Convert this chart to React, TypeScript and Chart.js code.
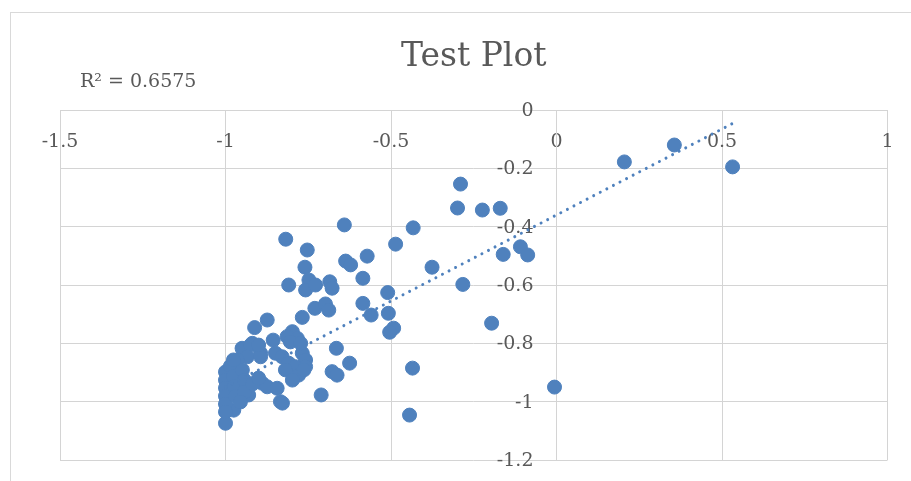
import { useEffect, useRef } from 'react';
import { Chart, registerables } from 'chart.js';

Chart.register(...registerables);

const chartTitle = 'Test Plot';
const rSquaredLabel = 'R\u00B2 = 0.6575';

const xValues = [
  0.356, 0.205, 0.532, -0.006, -0.29, -0.299, -0.224, -0.17, -0.433, -0.641,
  -0.818, -0.486, -0.753, -0.161, -0.109, -0.087, -0.376, -0.283, -0.637, -0.622,
  -0.572, -0.76, -0.585, -0.809, -0.748, -0.758, -0.728, -0.685, -0.678, -0.51,
  -0.585, -0.73, -0.698, -0.688, -0.56, -0.508, -0.768, -0.492, -0.504, -0.196,
  -0.874, -0.912, -0.798, -0.783, -0.814, -0.856, -0.919, -0.665, -0.625, -0.678,
  -0.663, -0.711, -0.435, -0.444, -0.95, -0.924, -0.894, -0.934, -0.849, -0.829,
  -0.809, -0.768, -0.758, -0.789, -0.819, -0.779, -0.798, -0.758, -0.763, -0.804,
  -0.773, -0.889, -0.874, -0.844, -0.834, -0.828, -0.93, -0.975, -1.0, -1.0,
  -1.0, -1.0, -1.0, -1.0, -1.0, -0.985, -0.976, -0.973, -0.97, -0.964,
  -0.949, -0.943, -0.943, -0.955, -0.918, -0.9, -0.976, -0.894, -0.9,
];

const yValues = [
  -0.12, -0.178, -0.195, -0.95, -0.254, -0.336, -0.343, -0.337, -0.404, -0.394,
  -0.443, -0.46, -0.48, -0.495, -0.469, -0.497, -0.539, -0.598, -0.518, -0.531,
  -0.501, -0.539, -0.577, -0.6, -0.583, -0.617, -0.6, -0.589, -0.611, -0.626,
  -0.663, -0.68, -0.665, -0.686, -0.703, -0.697, -0.711, -0.748, -0.762, -0.731,
  -0.72, -0.746, -0.76, -0.783, -0.777, -0.789, -0.8, -0.817, -0.868, -0.897,
  -0.909, -0.977, -0.885, -1.046, -0.817, -0.806, -0.834, -0.846, -0.834, -0.846,
  -0.868, -0.834, -0.857, -0.88, -0.891, -0.909, -0.926, -0.88, -0.891, -0.795,
  -0.8, -0.937, -0.949, -0.954, -1.0, -1.005, -0.977, -1.029, -1.074, -0.898,
  -0.926, -0.953, -0.981, -1.008, -1.035, -0.878, -0.912, -0.946, -0.981, -0.857,
  -0.891, -0.926, -0.967, -1.001, -0.939, -0.919, -0.857, -0.846, -0.806,
];

// Linear trendline
const trendSlope = 0.59;
const trendIntercept = -0.36;
const trendXStart = -1.0;
const trendXEnd = 0.53;

const xAxisMin = -1.5;
const xAxisMax = 1;
const xAxisStep = 0.5;
const yAxisMin = -1.2;
const yAxisMax = 0;
const yAxisStep = 0.2;

const markerColor = '#4F81BD';
const textColor = '#595959';
const gridColor = '#D4D4D4';

const fmt = (v: number) => String(Number(Number(v).toFixed(1)));

const yLabelShift = {
  id: 'yLabelShift',
  beforeDraw(chart: any) {
    const s: any = chart.scales.y;
    if (!s || !s.getLabelItems) return;
    const items = s.getLabelItems();
    for (const it of items) {
      if (!it.__shifted) {
        it.options.translation[0] -= 23;
        it.options.translation[1] += 1;
        it.__shifted = true;
      }
    }
  },
};

const rSquaredText = {
  id: 'rSquaredText',
  afterDraw(chart: any) {
    const ctx = chart.ctx;
    ctx.save();
    ctx.font = '19px "DejaVu Serif"';
    ctx.fillStyle = textColor;
    ctx.textAlign = 'left';
    ctx.textBaseline = 'alphabetic';
    ctx.fillText(rSquaredLabel, 80, 87);
    ctx.restore();
  },
};

const zeroPadding = (scale: any) => {
  scale.paddingLeft = 0;
  scale.paddingRight = 0;
  scale.paddingTop = 0;
  scale.paddingBottom = 0;
};

export default function App() {
  const ref = useRef<HTMLCanvasElement | null>(null);

  useEffect(() => {
    if (!ref.current) return;
    const points = xValues.map((x, i) => ({ x, y: yValues[i] }));
    const trend = [trendXStart, trendXEnd].map((x) => ({ x, y: trendIntercept + trendSlope * x }));

    const chart = new Chart(ref.current, {
      type: 'scatter',
      data: {
        datasets: [
          {
            label: 'Series1',
            data: points,
            backgroundColor: markerColor,
            borderColor: markerColor,
            borderWidth: 1,
            pointRadius: 7,
            pointHoverRadius: 7,
            order: 2,
          },
          {
            label: 'Trendline',
            data: trend,
            showLine: true,
            borderColor: markerColor,
            borderWidth: 3,
            borderDash: [0.01, 7.4],
            borderCapStyle: 'round',
            pointRadius: 0,
            fill: false,
            order: 1,
          } as any,
        ],
      },
      options: {
        animation: false,
        responsive: false,
        events: [],
        layout: { padding: { left: 60, right: 23.5, top: 18, bottom: 21 } },
        font: { family: '"DejaVu Serif"' } as any,
        plugins: {
          legend: { display: false },
          tooltip: { enabled: false },
          title: {
            display: true,
            text: chartTitle,
            color: textColor,
            font: { family: '"DejaVu Serif"', size: 33, weight: 'normal' },
            padding: { top: 20, bottom: 32.4 },
          },
        },
        scales: {
          x: {
            type: 'linear',
            position: { y: 0 } as any,
            min: xAxisMin,
            max: xAxisMax,
            afterFit: zeroPadding,
            ticks: {
              stepSize: xAxisStep,
              color: textColor,
              font: { family: '"DejaVu Serif"', size: 19 },
              padding: 21,
              maxRotation: 0,
              callback: (v: any) => fmt(v),
            },
            grid: { color: gridColor, lineWidth: 1, drawTicks: false },
            border: { color: gridColor, width: 1 },
          },
          y: {
            type: 'linear',
            position: { x: 0 } as any,
            min: yAxisMin,
            max: yAxisMax,
            afterFit: zeroPadding,
            ticks: {
              stepSize: yAxisStep,
              color: textColor,
              font: { family: '"DejaVu Serif"', size: 19 },
              padding: 0,
              callback: (v: any) => fmt(v),
            },
            grid: { color: gridColor, lineWidth: 1, drawTicks: false },
            border: { color: gridColor, width: 1 },
          },
        },
      },
      plugins: [yLabelShift, rSquaredText],
    });
    return () => chart.destroy();
  }, []);

  return (
    <div style={{ position: 'absolute', left: 0, top: 0, width: 911, height: 481, overflow: 'hidden', background: '#fff' }}>
      <div
        style={{
          position: 'absolute',
          left: 10,
          top: 12,
          width: 1200,
          height: 1200,
          border: '1px solid #D9D9D9',
        }}
      />
      <canvas ref={ref} width={911} height={481} style={{ position: 'absolute', left: 0, top: 0 }} />
    </div>
  );
}
